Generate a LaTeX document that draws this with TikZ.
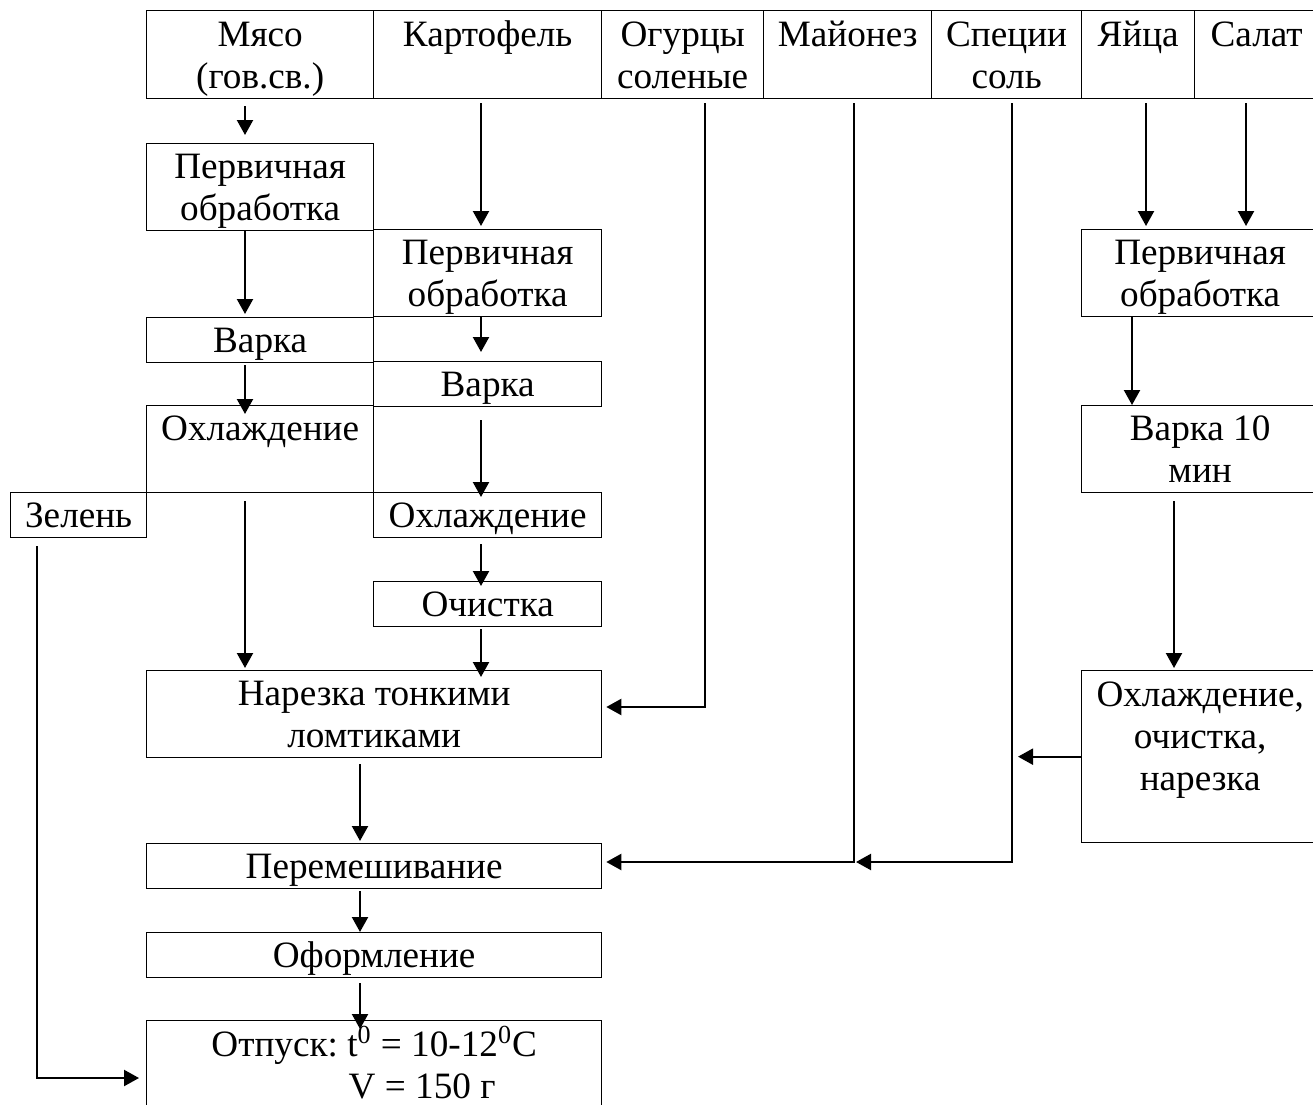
\documentclass[tikz,border=0pt]{standalone}
\usepackage{fontspec}
\setmainfont{Liberation Serif}
\usetikzlibrary{arrows.meta}

\tikzset{
    box/.style={draw, line width=0.65pt, anchor=north west, inner sep=0pt, align=flush center,
        execute at begin node={\rule{0pt}{17.5pt}}, execute at end node={\rule[-5pt]{0pt}{5pt}}},
    arr/.style={line width=1.1pt, -{Triangle[length=7.5pt, width=8pt]}}
}

\begin{document}
\begin{tikzpicture}[x=0.5pt, y=-0.5pt, font=\fontsize{18.6}{21}\selectfont]
        \useasboundingbox (0,0) rectangle (1313,1104);

        % head row
        \node[box, text width=113.5pt, minimum height=44pt] (hMeat) at (146,10) {Мясо\\(гов.св.)};
        \node[box, text width=114pt, minimum height=44pt] (hPot) at (373,10) {Картофель\\\mbox{}};
        \node[box, text width=81pt, minimum height=44pt] (hCuc) at (601,10) {Огурцы\\соленые};
        \node[box, text width=84pt, minimum height=44pt] (hMay) at (763,10) {Майонез\\\mbox{}};
        \node[box, text width=75pt, minimum height=44pt] (hSpice) at (931,10) {Специи\\соль};
        \node[box, text width=56.5pt, minimum height=44pt] (hEgg) at (1081,10) {Яйца\\\mbox{}};
        \node[box, text width=62pt, minimum height=44pt] (hSal) at (1194,10) {Салат\\\mbox{}};

        % meat
        \node[box, text width=113.5pt, minimum height=43pt] (mPerv) at (146,143) {Первичная\\обработка};
        \node[box, text width=113.5pt, minimum height=22pt] (mBoil) at (146,317) {Варка};
        \node[box, text width=113.5pt, minimum height=43.5pt] (mCool) at (146,405) {Охлаждение\\\mbox{}};

        % potato
        \node[box, text width=114pt, minimum height=43.5pt] (pPerv) at (373,229) {Первичная\\обработка};
        \node[box, text width=114pt, minimum height=22pt] (pBoil) at (373,361) {Варка};
        \node[box, text width=114pt, minimum height=22.5pt] (pCool) at (373,492) {Охлаждение};
        \node[box, text width=114pt, minimum height=22pt] (pPeel) at (373,581) {Очистка};

        \node[box, text width=68pt, minimum height=22.5pt] (green) at (10,492) {Зелень};

        % main line
        \node[box, text width=227.5pt, minimum height=43.5pt] (cut) at (146,670) {Нарезка тонкими\\ломтиками};
        \node[box, text width=227.5pt, minimum height=21.5pt] (mix) at (146,843) {Перемешивание};
        \node[box, text width=227.5pt, minimum height=21.5pt] (decor) at (146,932) {Оформление};
        \node[box, text width=227.5pt, minimum height=44pt] (serve) at (146,1020) {Отпуск:\ t\textsuperscript{0} = 10-12\textsuperscript{0}C\\\hspace*{48pt}V = 150 г};

        % eggs
        \node[box, text width=118.5pt, minimum height=43.5pt] (ePerv) at (1081,229) {Первичная\\обработка};
        \node[box, text width=118.5pt, minimum height=43.5pt] (eBoil) at (1081,405) {Варка 10\\мин};
        \node[box, text width=118.5pt, minimum height=86pt] (eCool) at (1081,670) {Охлаждение,\\очистка,\\нарезка\\\mbox{}};

        \coordinate (xM) at (245,0);
        \coordinate (xP) at (481,0);
        \coordinate (xN) at (360,0);
        \coordinate (xE) at (1146,0);
        \coordinate (xL) at (1246,0);
        \coordinate (xB) at (1132,0);
        \coordinate (xR) at (1174,0);
        \coordinate (xS) at (1012,0);
        \coordinate (jC) at (705,707);
        \coordinate (jY) at (854,862);
        \coordinate (jG) at (37,1078);

        \draw[arr, shorten <=3.5pt, shorten >=4pt] (xM |- hMeat.south) -- (xM |- mPerv.north);
        \draw[arr, shorten >=1.5pt] (xM |- mPerv.south) -- (xM |- mBoil.north);
        \draw[arr, shorten <=1pt, shorten >=-4.5pt] (xM |- mBoil.south) -- (xM |- mCool.north);
        \draw[arr, shorten <=4pt, shorten >=1pt] (xM |- mCool.south) -- (xM |- cut.north);

        \draw[arr, shorten <=2pt, shorten >=1.5pt] (xP |- hPot.south) -- (xP |- pPerv.north);
        \draw[arr, shorten >=4.5pt] (xP |- pPerv.south) -- (xP |- pBoil.north);
        \draw[arr, shorten <=6.5pt, shorten >=-2.5pt] (xP |- pBoil.south) -- (xP |- pCool.north);
        \draw[arr, shorten <=3pt, shorten >=-2.5pt] (xP |- pCool.south) -- (xP |- pPeel.north);
        \draw[arr, shorten <=1pt, shorten >=-3.5pt] (xP |- pPeel.south) -- (xP |- cut.north);

        \draw[arr, shorten <=3pt, shorten >=1pt] (xN |- cut.south) -- (xN |- mix.north);
        \draw[arr, shorten <=1pt] (xN |- mix.south) -- (xN |- decor.north);
        \draw[arr, shorten <=2.5pt, shorten >=-4.5pt] (xN |- decor.south) -- (xN |- serve.north);

        \draw[arr, shorten <=2pt, shorten >=2pt] (jC |- hCuc.south) -- (jC) -- (jC -| cut.east);
        \draw[arr, shorten <=2pt, shorten >=2pt] (jY |- hMay.south) -- (jY) -- (jY -| mix.east);
        \draw[arr, shorten <=2pt, shorten >=1pt] (xS |- hSpice.south) -- (xS |- jY) -- (jY);
        \draw[arr, shorten >=3pt] (eCool.west) -- (eCool.west -| xS);

        \draw[arr, shorten <=2pt, shorten >=1.5pt] (xE |- hEgg.south) -- (xE |- ePerv.north);
        \draw[arr, shorten <=2pt, shorten >=1.5pt] (xL |- hSal.south) -- (xL |- ePerv.north);
        \draw[arr] (xB |- ePerv.south) -- (xB |- eBoil.north);
        \draw[arr, shorten <=4pt, shorten >=1pt] (xR |- eBoil.south) -- (xR |- eCool.north);

        \draw[arr, shorten <=4pt, shorten >=3.5pt] (jG |- green.south) -- (jG) -- (jG -| serve.west);
    \end{tikzpicture}
\end{document}
